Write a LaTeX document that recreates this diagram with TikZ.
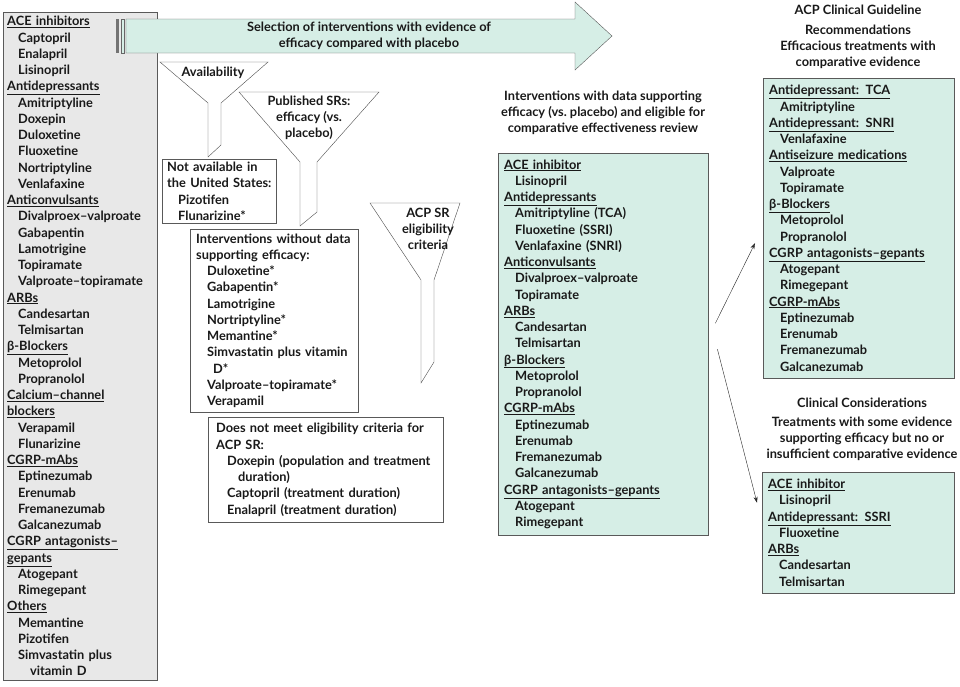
\documentclass[tikz,border=0pt]{standalone}
\usepackage{fontspec}
\setmainfont{Lato}
\usepackage{tikz}
\usetikzlibrary{calc}
\usetikzlibrary{arrows.meta}
\definecolor{mint}{RGB}{214,238,230}
\definecolor{boxgray}{RGB}{232,232,232}
\newcommand{\grp}[1]{\underline{#1}}
\newcommand{\drug}[1]{\hspace*{11pt}#1}

\begin{document}
\begin{tikzpicture}[x=1pt,y=-1pt,thin,
	every node/.style={font=\bfseries\fontsize{12.8}{16.25}\selectfont,text=black!90},
	list box/.style={draw=black!65,anchor=north west,align=left,inner xsep=4pt,inner ysep=0pt},
	plain box/.style={list box,fill=white},
	green box/.style={list box,fill=mint},
	head text/.style={align=center,inner sep=0pt},
	funnel/.style={draw=black!70,fill=white},
	arr/.style={-{Stealth[length=6pt,width=4pt]},black!85}]
	
	\useasboundingbox (0,0) rectangle (960,686);
	
	% all candidate drugs
	\node[list box,fill=boxgray,text width=146pt,minimum height=668pt] (all) at (3,12) {%
		\grp{ACE inhibitors}\\ \drug{Captopril}\\ \drug{Enalapril}\\ \drug{Lisinopril}\\
		\grp{Antidepressants}\\ \drug{Amitriptyline}\\ \drug{Doxepin}\\ \drug{Duloxetine}\\
		\drug{Fluoxetine}\\ \drug{Nortriptyline}\\ \drug{Venlafaxine}\\
		\grp{Anticonvulsants}\\ \drug{Divalproex--valproate}\\ \drug{Gabapentin}\\
		\drug{Lamotrigine}\\ \drug{Topiramate}\\ \drug{Valproate--topiramate}\\
		\grp{ARBs}\\ \drug{Candesartan}\\ \drug{Telmisartan}\\
		\grp{β-Blockers}\\ \drug{Metoprolol}\\ \drug{Propranolol}\\
		\grp{Calcium--channel}\\ \grp{blockers}\\ \drug{Verapamil}\\ \drug{Flunarizine}\\
		\grp{CGRP-mAbs}\\ \drug{Eptinezumab}\\ \drug{Erenumab}\\ \drug{Fremanezumab}\\ \drug{Galcanezumab}\\
		\grp{CGRP antagonists--}\\ \grp{gepants}\\ \drug{Atogepant}\\ \drug{Rimegepant}\\
		\grp{Others}\\ \drug{Memantine}\\ \drug{Pizotifen}\\ \drug{Simvastatin plus}\\ \hspace*{23pt}vitamin D};
	
	% big arrow
	\fill[black!55] (116,19) rectangle (119,53);
	\draw[black!60,fill=mint] (121,19) rectangle (124,53);
	\draw[black!65,fill=mint] (126,19) -- (575,19) -- (575,2) -- (612,36) -- (575,70) -- (575,53) -- (126,53) -- cycle;
	\node[head text] (sel) at (369,36) {Selection of interventions with evidence of\\efficacy compared with placebo};
	
	% funnels
	\draw[funnel] (160,62) -- (268,62) -- (221,103) -- (221,145) -- (208,157) -- (208,103) -- cycle;
	\node[head text] (avail) at (213,73) {Availability};
	\draw[funnel] (239,92) -- (379,92) -- (317,162) -- (317,212) -- (300,226) -- (300,162) -- cycle;
	\node[head text] (pubsr) at (309,118) {Published SRs:\\efficacy (vs.\\placebo)};
	\draw[funnel] (370,203) -- (460,203) -- (434,280) -- (434,362) -- (421,383) -- (421,280) -- cycle;
	\node[head text] (acpsr) at (428,229) {ACP SR\\eligibility\\criteria};
	
	% excluded
	\node[plain box,inner xsep=5pt,text width=104pt,minimum height=64pt] (notus) at (162,159) {%
		Not available in\\ \mbox{the United States:}\\ \drug{Pizotifen}\\ \drug{Flunarizine*}};
	\node[plain box,inner xsep=6pt,text width=156pt,minimum height=183pt] (nodata) at (190,229) {%
		Interventions without data\\ supporting efficacy:\\ \drug{Duloxetine*}\\ \drug{Gabapentin*}\\
		\drug{Lamotrigine}\\ \drug{Nortriptyline*}\\ \drug{Memantine*}\\ \drug{Simvastatin plus vitamin}\\
		\hspace*{17pt}D*\\ \drug{Valproate--topiramate*}\\ \drug{Verapamil}};
	\node[plain box,inner xsep=8pt,text width=219pt,minimum height=105pt] (noelig) at (208,417) {%
		Does not meet eligibility criteria for\\ ACP SR:\\ \drug{Doxepin (population and treatment}\\
		\hspace*{22pt}duration)\\ \drug{Captopril (treatment duration)}\\ \drug{Enalapril (treatment duration)}};
	
	% eligible
	\node[head text] (midhead) at (603,113) {Interventions with data supporting\\efficacy (vs.\ placebo) and eligible for\\comparative effectiveness review};
	\node[green box,inner xsep=6pt,text width=198pt,minimum height=382pt] (mid) at (498,153) {%
		\grp{ACE inhibitor}\\ \drug{Lisinopril}\\
		\grp{Antidepressants}\\ \drug{Amitriptyline (TCA)}\\ \drug{Fluoxetine (SSRI)}\\ \drug{Venlafaxine (SNRI)}\\
		\grp{Anticonvulsants}\\ \drug{Divalproex--valproate}\\ \drug{Topiramate}\\
		\grp{ARBs}\\ \drug{Candesartan}\\ \drug{Telmisartan}\\
		\grp{β-Blockers}\\ \drug{Metoprolol}\\ \drug{Propranolol}\\
		\grp{CGRP-mAbs}\\ \drug{Eptinezumab}\\ \drug{Erenumab}\\ \drug{Fremanezumab}\\ \drug{Galcanezumab}\\
		\grp{CGRP antagonists--gepants}\\ \drug{Atogepant}\\ \drug{Rimegepant}};
	
	% guideline
	\node[head text] (guide) at (858,10) {ACP Clinical Guideline};
	\node[head text] (rechead) at (858,47) {Recommendations\\Efficacious treatments with\\comparative evidence};
	\node[green box,inner xsep=6pt,text width=179pt,minimum height=300pt] (rec) at (763,78) {%
		\grp{Antidepressant: TCA}\\ \drug{Amitriptyline}\\
		\grp{Antidepressant: SNRI}\\ \drug{Venlafaxine}\\
		\grp{Antiseizure medications}\\ \drug{Valproate}\\ \drug{Topiramate}\\
		\grp{β-Blockers}\\ \drug{Metoprolol}\\ \drug{Propranolol}\\
		\grp{CGRP antagonists--gepants}\\ \drug{Atogepant}\\ \drug{Rimegepant}\\
		\grp{CGRP-mAbs}\\ \drug{Eptinezumab}\\ \drug{Erenumab}\\ \drug{Fremanezumab}\\ \drug{Galcanezumab}};
	\node[head text] (conshead) at (862,403) {Clinical Considerations};
	\node[head text] (consub) at (862,439) {Treatments with some evidence\\supporting efficacy but no or\\insufficient comparative evidence};
	\node[green box,inner xsep=6pt,text width=180pt,minimum height=121pt] (cons) at (762,472) {%
		\grp{ACE inhibitor}\\ \drug{Lisinopril}\\
		\grp{Antidepressant: SSRI}\\ \drug{Fluoxetine}\\
		\grp{ARBs}\\ \drug{Candesartan}\\ \drug{Telmisartan}};
	
	\coordinate (fromrec) at ($(mid.east)+(7,-21)$);
	\coordinate (fromcons) at ($(mid.east)+(9,5)$);
	\coordinate (torec) at ($(rec.west)+(-8,15)$);
	\coordinate (tocons) at ($(cons.west)+(-5,-30)$);
	\path[arr] (fromrec) edge (torec)
		(fromcons) edge (tocons);
\end{tikzpicture}
\end{document}
